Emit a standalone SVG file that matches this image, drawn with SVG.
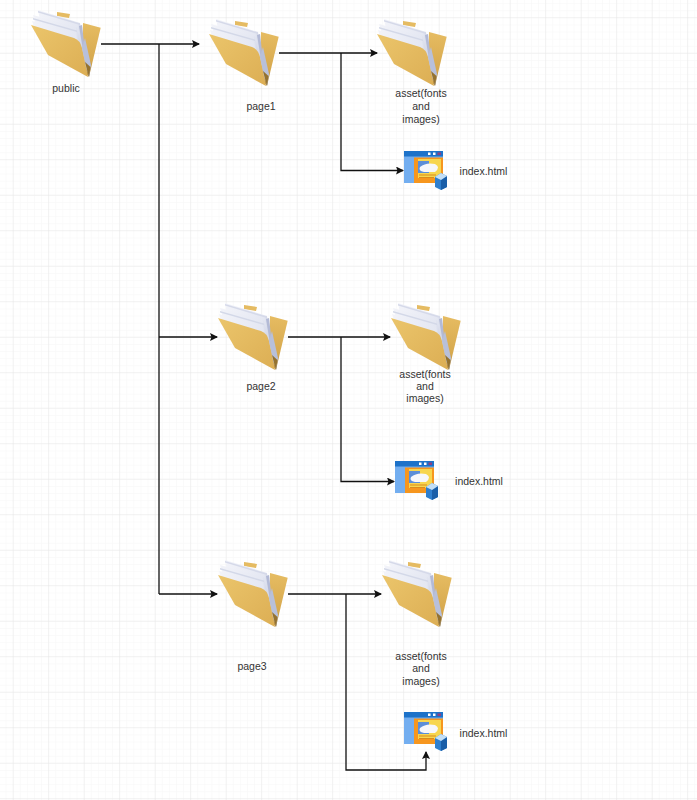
<svg xmlns="http://www.w3.org/2000/svg" width="697" height="800" viewBox="0 0 697 800">
<defs>
<pattern id="minor" width="7.1" height="7.1" patternUnits="userSpaceOnUse" x="5.600" y="3.200"><path d="M7.100 0H0V7.100" fill="none" stroke="#f6f6f6" stroke-width="1"/></pattern>
<pattern id="major" width="35.5" height="35.5" patternUnits="userSpaceOnUse" x="12.700" y="17.200"><path d="M35.500 0H0V35.500" fill="none" stroke="#e8e8e8" stroke-width="1"/></pattern>
<linearGradient id="back" x1="0" y1="0" x2="0" y2="1"><stop offset="0" stop-color="#e6bc62"/><stop offset="0.700" stop-color="#d7a94f"/><stop offset="1" stop-color="#a98238"/></linearGradient>
<linearGradient id="front" x1="0" y1="0" x2="1" y2="1"><stop offset="0" stop-color="#ebc56b"/><stop offset="1" stop-color="#dcae54"/></linearGradient>
<linearGradient id="paper" x1="0" y1="0" x2="1" y2="0"><stop offset="0" stop-color="#f2f3f9"/><stop offset="0.800" stop-color="#e4e7f2"/><stop offset="1" stop-color="#bcc3dc"/></linearGradient>
<marker id="arrow" markerWidth="9" markerHeight="8" refX="7" refY="4" orient="auto" markerUnits="userSpaceOnUse"><path d="M0 0L8 4L0 8L1.500 4Z" fill="#111"/></marker>
<g id="folder">
<path d="M27 2L40 4L39 8L27 6Z" fill="#e5bb62"/>
<path d="M53 13L70.700 17.700L59 66.700L52 60Z" fill="url(#back)"/>
<path d="M8 0L50 13L57 60L12 20Z" fill="url(#paper)"/>
<path d="M8 1L50 13.500L50 15L8 2.500Z" fill="#d5d9e9"/>
<path d="M3 5L47 17.500L56 60L8 22Z" fill="url(#paper)"/>
<path d="M3 8L47 20.500L47 22L3 9.500Z" fill="#d3d8e8"/>
<path d="M2 11L46 23.500L57 63L7 26Z" fill="url(#paper)"/>
<path d="M49 16L52 15L57 58L55 52Z" fill="#b3bad6"/>
<path d="M1 15L18 45L58 67L52 38Q50 30 44 28Z" fill="url(#front)"/>
<path d="M52 38L59 67L61 55L55 28Z" fill="#b8c0da"/>
<path d="M55 52L59 67L60.500 57Z" fill="#94722f"/>
</g>
<g id="page">
<path d="M0 0H39V32H0Z" fill="#73aef0"/>
<path d="M0 0H39V5.500H0Z" fill="#1d72c9"/>
<rect x="24" y="1.500" width="2.500" height="2.500" fill="#fff"/><rect x="29" y="1.500" width="2.500" height="2.500" fill="#fff"/><rect x="33.500" y="1.500" width="3.500" height="2.500" fill="#8f3f80"/>
<path d="M10 6.500H39V32H10Z" fill="#f6961e"/>
<path d="M14 8H37V27H14Z" fill="#f7d64f"/>
<path d="M14 10H25V22H14Z" fill="#5c8ed8"/>
<path d="M16 16Q22 11 31 13Q37 16 31 21H20Q14 20 16 16Z" fill="#f6f7fb"/>
<path d="M15 24H32M15 26.500H30" stroke="#d98a1c" stroke-width="1"/>
<path d="M31 26L37 22L43 25V36L37 39L31 36Z" fill="#2f7fce"/>
<path d="M37 29L43 25V36L37 39Z" fill="#1a5ea8"/>
<path d="M31 26L37 22L43 25L37 29Z" fill="#c3dff6"/>
</g>
</defs>
<style>
text{font-family:"Liberation Sans",Arial,sans-serif;font-size:10.500px;fill:#333;text-anchor:middle}
.wire{fill:none;stroke:#111;stroke-width:1.300}
.arr{marker-end:url(#arrow)}
</style>
<rect width="697" height="800" fill="#fff"/>
<rect width="697" height="800" fill="url(#minor)"/>
<rect width="697" height="800" fill="url(#major)"/>
<g id="connectors">
<path class="wire arr" d="M101 44H199"/>
<path class="wire" d="M159 44V594"/>
<path class="wire arr" d="M159 337H217"/>
<path class="wire arr" d="M159 594H217"/>
<path class="wire arr" d="M279 53H377"/>
<path class="wire arr" d="M341 53V170.500H403"/>
<path class="wire arr" d="M288 337H390"/>
<path class="wire arr" d="M341 337V481.500H394"/>
<path class="wire arr" d="M288 594H381"/>
<path class="wire arr" d="M346 594V770H426V752"/>
</g>
<g id="public"><use href="#folder" x="30" y="10"/><text x="66" y="92">public</text></g>
<g id="page1"><use href="#folder" x="208" y="19"/><text x="261" y="110">page1</text></g>
<g id="asset1"><use href="#folder" x="376" y="19"/><text x="421" y="97">asset(fonts</text><text x="421" y="110">and</text><text x="421" y="123">images)</text></g>
<g id="index1"><use href="#page" x="404" y="151"/><text x="483.500" y="175">index.html</text></g>
<g id="page2"><use href="#folder" x="217" y="303"/><text x="261" y="390">page2</text></g>
<g id="asset2"><use href="#folder" x="390" y="303"/><text x="425" y="378">asset(fonts</text><text x="425" y="390">and</text><text x="425" y="402">images)</text></g>
<g id="index2"><use href="#page" x="395" y="461"/><text x="479" y="485">index.html</text></g>
<g id="page3"><use href="#folder" x="217" y="560"/><text x="252" y="670">page3</text></g>
<g id="asset3"><use href="#folder" x="381" y="560"/><text x="421" y="660">asset(fonts</text><text x="421" y="672">and</text><text x="421" y="685">images)</text></g>
<g id="index3"><use href="#page" x="404" y="712"/><text x="483.500" y="737">index.html</text></g>
</svg>
